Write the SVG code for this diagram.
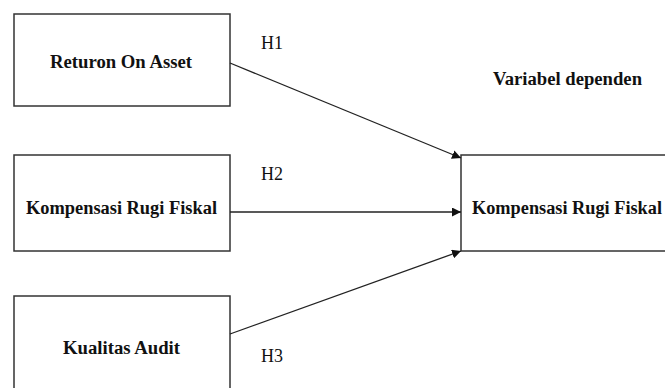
<svg xmlns="http://www.w3.org/2000/svg" width="665" height="388" viewBox="0 0 665 388">
<style>
.box{fill:#fff;stroke:#333;stroke-width:1.5}
.lbl{font-weight:bold;font-size:18px;fill:#111;text-anchor:middle}
.h{font-size:18px;fill:#111}
.con{stroke:#222;stroke-width:1.3;fill:none;marker-end:url(#ah)}
</style>
<defs>
<marker id="ah" viewBox="0 0 10 10" refX="10" refY="5" markerWidth="9" markerHeight="9" markerUnits="userSpaceOnUse" orient="auto">
<path d="M0,0 L10,5 L0,10 z" fill="#111"/>
</marker>
</defs>
<rect width="665" height="388" fill="#fff"/>
<g font-family="Liberation Serif, DejaVu Serif, serif">
<g id="roa">
<rect class="box" x="14" y="14" width="216" height="92"/>
<text class="lbl" x="121" y="68" textLength="142" lengthAdjust="spacingAndGlyphs">Returon On Asset</text>
</g>
<g id="krf-x">
<rect class="box" x="14" y="155" width="216" height="96"/>
<text class="lbl" x="121.5" y="214" textLength="191" lengthAdjust="spacingAndGlyphs">Kompensasi Rugi Fiskal</text>
</g>
<g id="ka">
<rect class="box" x="14" y="296" width="216" height="100"/>
<text class="lbl" x="121.5" y="354" textLength="117" lengthAdjust="spacingAndGlyphs">Kualitas Audit</text>
</g>
<g id="krf-y">
<rect class="box" x="461" y="155" width="210" height="96"/>
<text class="lbl" x="567" y="214" textLength="190" lengthAdjust="spacingAndGlyphs">Kompensasi Rugi Fiskal</text>
</g>
<g id="var-dep">
<text class="lbl" x="567.5" y="85" textLength="149" lengthAdjust="spacingAndGlyphs">Variabel dependen</text>
</g>
<g id="connectors">
<line class="con" x1="230" y1="63" x2="461" y2="158"/>
<line class="con" x1="230" y1="212" x2="461" y2="212"/>
<line class="con" x1="230" y1="334" x2="461" y2="251"/>
<text class="h" x="261" y="49" textLength="22" lengthAdjust="spacingAndGlyphs">H1</text>
<text class="h" x="261" y="180" textLength="22" lengthAdjust="spacingAndGlyphs">H2</text>
<text class="h" x="261" y="362" textLength="22" lengthAdjust="spacingAndGlyphs">H3</text>
</g>
</g>
</svg>
